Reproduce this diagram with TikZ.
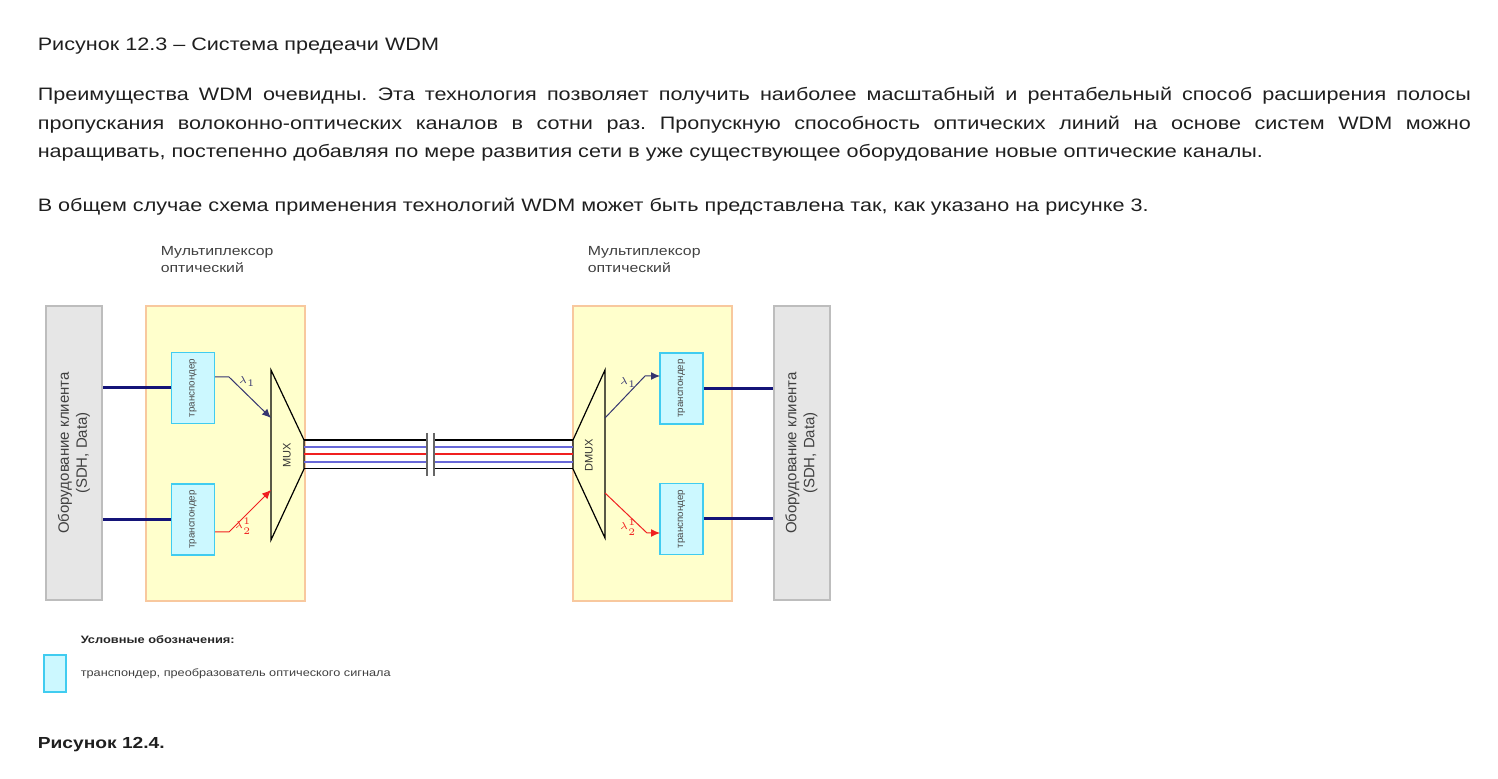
\documentclass[tikz,border=0pt]{standalone}
\usepackage{fontspec}
\setmainfont{Liberation Sans}[FakeStretch=1.2]
\newfontfamily\rotfont{Liberation Sans}
\usepackage{xcolor}
\usetikzlibrary{arrows.meta,positioning}
\definecolor{clientgray}{HTML}{E6E6E6}
\definecolor{clientline}{HTML}{BDBDBD}
\definecolor{muxfill}{HTML}{FFFFCC}
\definecolor{muxline}{HTML}{F8C89E}
\definecolor{trfill}{HTML}{CCF8FF}
\definecolor{trline}{HTML}{40CCF0}
\definecolor{feedblue}{HTML}{141478}
\definecolor{fibblue}{HTML}{6868D8}
\definecolor{sigred}{HTML}{F02020}
\definecolor{sigblue}{HTML}{353570}

\begin{document}
\frenchspacing
\begin{tikzpicture}[x=0.5pt, y=-0.5pt, thick]
\tikzstyle{every node} = [inner sep=0pt, text=black!88]
\tikzstyle{txt} = [anchor=base west, font=\fontsize{9pt}{10pt}\selectfont]
\tikzstyle{lbl} = [anchor=base west, text=black!75, font=\fontsize{6.6pt}{7pt}\selectfont]
\tikzstyle{client} = [draw=clientline, fill=clientgray, line width=1pt, rotate=90, minimum width=147pt, minimum height=28pt, align=center, text=black!75, font=\rotfont\fontsize{7.5pt}{9pt}\selectfont]
\tikzstyle{muxbox} = [draw=muxline, fill=muxfill, line width=1pt, minimum width=79.5pt, minimum height=147.5pt]
\tikzstyle{transp} = [draw=trline, fill=trfill, line width=0.8pt, rotate=90, minimum width=35.5pt, minimum height=21.5pt, text=black!70, font=\rotfont\fontsize{4.9pt}{5pt}\selectfont]
\tikzstyle{feed} = [draw=feedblue, line width=1.5pt]
\tikzstyle{sig} = [line width=0.5pt, -{Latex[length=4.5pt, width=4pt]}]
\tikzstyle{lam} = [font=\fontsize{5pt}{6pt}\selectfont]
\useasboundingbox (0,0) rectangle (1498,779);

\node[txt] (head) at (37,51) {Рисунок 12.3 – Система предеачи WDM};
\node[txt] (par1) at (37,101) {\makebox[716.5pt][s]{Преимущества WDM очевидны. Эта технология позволяет получить наиболее масштабный и рентабельный способ расширения полосы}};
\node[txt] (par2) at (37,129.5) {\makebox[716.5pt][s]{пропускания волоконно-оптических каналов в сотни раз. Пропускную способность оптических линий на основе систем WDM можно}};
\node[txt] (par3) at (37,158) {наращивать, постепенно добавляя по мере развития сети в уже существующее оборудование новые оптические каналы.};
\node[txt] (intro) at (37,211.5) {В общем случае схема применения технологий WDM может быть представлена так, как указано на рисунке 3.};

\node[lbl] (capA) at (160,256) {Мультиплексор};
\node[lbl] (capA2) at (160,272.5) {оптический};
\node[lbl] (capB) at (587,256) {Мультиплексор};
\node[lbl] (capB2) at (587,272.5) {оптический};

\node[client] (clA) at (74,453) {Оборудование клиента\\(SDH, Data)};
\node[client] (clB) at (801.5,453) {Оборудование клиента\\(SDH, Data)};
\node[muxbox] (boxA) at (225.5,453.5) {};
\node[muxbox] (boxB) at (652.5,453.5) {};

\node[transp] (tA1) at (193,388) {транспондер};
\node[transp] (tA2) at (193,519.5) {транспондер};
\node[transp] (tB1) at (681.5,388.5) {транспондер};
\node[transp] (tB2) at (681.5,519) {транспондер};

\draw[fill=muxfill, line width=0.6pt] (271,370) -- (304,440) -- (304,469) -- (271,540) -- cycle;
\draw[fill=muxfill, line width=0.6pt] (605,370) -- (573,440) -- (573,469) -- (605,538) -- cycle;
\node[rotate=90, text=black!80, font=\rotfont\fontsize{5.5pt}{6pt}\selectfont] (mux) at (287,455) {MUX};
\node[rotate=90, text=black!80, font=\rotfont\fontsize{5.5pt}{6pt}\selectfont] (dmux) at (589,455) {DMUX};

\draw[feed] (tA1.north) -- (tA1.north -| clA.south);
\draw[feed] (tA2.north) -- (tA2.north -| clA.south);
\draw[feed] (tB1.south) -- (tB1.south -| clB.north);
\draw[feed] (tB2.south) -- (tB2.south -| clB.north);

\coordinate (a1) at (215,377);
\coordinate (a2) at (215,532);
\coordinate (m1) at (271,418);
\coordinate (m2) at (271,490);
\coordinate (d1) at (605,418);
\coordinate (d2) at (605,493);
\coordinate (b1) at (660,376);
\coordinate (b2) at (660,533);
\draw[sig, sigblue] (a1) -- ++(14,0) -- (m1);
\draw[sig, sigred] (a2) -- ++(14,0) -- (m2);
\draw[sig, sigblue] (d1) -- (645,376) -- (b1);
\draw[sig, sigred] (d2) -- (647,533) -- (b2);
\node[lam, text=sigblue] (l1) at (247,382) {$\lambda_1$};
\node[lam, text=sigred] (l2) at (243,526) {$\lambda_2^1$};
\node[lam, text=sigblue] (l3) at (628,383) {$\lambda_1$};
\node[lam, text=sigred] (l4) at (628,527) {$\lambda_2^1$};

\foreach \y/\c/\w in {440/black/0.6pt, 447.3/fibblue/1pt, 454.3/sigred/0.8pt, 461.7/fibblue/1pt, 468.7/black/0.6pt} {
  \draw[\c, line width=\w] (304,\y) -- (428,\y);
  \draw[\c, line width=\w] (433,\y) -- (573,\y);
}
\draw[black!60, line width=1pt] (427,433) -- (427,476);
\draw[black!60, line width=1pt] (434,433) -- (434,476);

\node[lbl, font=\bfseries\fontsize{5.35pt}{7pt}\selectfont, text=black!85] (legh) at (80,644) {Условные обозначения:};
\node[draw=trline, fill=trfill, line width=0.8pt, minimum width=11pt, minimum height=18.5pt] (legbox) at (55,673.5) {};
\node[lbl, font=\fontsize{5.3pt}{7pt}\selectfont] (legt) at (80,676) {транспондер, преобразователь оптического сигнала};

\node[txt, font=\bfseries\fontsize{8pt}{10pt}\selectfont] (foot) at (37,748) {Рисунок 12.4.};
\end{tikzpicture}
\end{document}
